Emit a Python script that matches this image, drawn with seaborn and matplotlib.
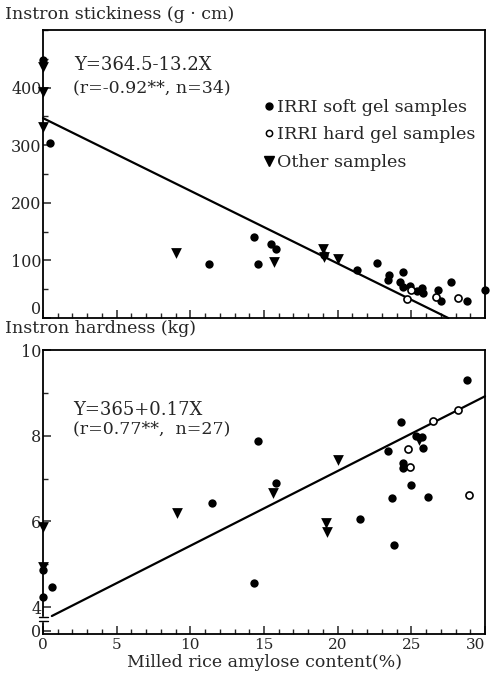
import numpy as np
import pandas as pd
import seaborn as sns
import matplotlib.pyplot as plt
from matplotlib.lines import Line2D
from matplotlib.ticker import MultipleLocator

sns.set_style("ticks")
plt.rcParams["font.family"] = ["DejaVu Serif"]

# stickiness panel (g cm) vs amylose (%)
soft_x_top = [0, 0.5, 11.3, 14.3, 14.6, 15.5, 15.8, 19.1, 21.3, 22.7, 23.5, 23.4,
              24.4, 24.2, 24.4, 24.9, 25.7, 25.8, 25.4, 26.8, 27.0, 27.7, 28.8, 30.0]
soft_y_top = [448, 304, 94, 141, 94, 128, 120, 110, 83, 95, 75, 66,
              80, 62, 54, 56, 52, 43, 46, 49, 30, 62, 30, 49]
hard_x_top = [24.7, 25.0, 26.7, 28.2]
hard_y_top = [33, 49, 37, 35]
other_x_top = [0, 0, 0, 9.0, 15.7, 19.0, 19.1, 20.0]
other_y_top = [436, 392, 332, 113, 97, 119, 106, 102]
line_x_top = [0, 27.5]
line_y_top = [347, 0]

# hardness panel (kg) vs amylose (%)
soft_x_bot = [0, 0.6, 0, 11.5, 14.6, 14.3, 15.8, 21.5, 23.4, 23.7, 23.8, 24.3,
              24.4, 24.4, 25.0, 25.3, 25.7, 25.8, 26.1, 28.8]
soft_y_bot = [4.86, 4.47, 4.23, 6.42, 7.87, 4.56, 6.89, 6.05, 7.64, 6.54, 5.45, 8.31,
              7.36, 7.24, 6.84, 7.99, 7.97, 7.71, 6.56, 9.31]
hard_x_bot = [24.8, 24.9, 26.5, 28.2, 28.9]
hard_y_bot = [7.68, 7.26, 8.34, 8.61, 6.61]
other_x_bot = [0, 0, 9.1, 15.6, 19.2, 19.3, 20.0, 25.5]
other_y_bot = [5.86, 4.93, 6.19, 6.66, 5.96, 5.75, 7.43, 7.89]
line_x_bot = [0.6, 30]
line_y_bot = [3.79, 8.92]

x_ticks = [0, 5, 10, 15, 20, 25, 30]
top_yticks = [0, 100, 200, 300, 400]
bot_yticks = [3.45, 4, 6, 8, 10]
bot_yticklabels = ["0", "4", "6", "8", "10"]

legend_labels = ["IRRI soft gel samples", "IRRI hard gel samples", "Other samples"]


def draw_groups(ax, sx, sy, hx, hy, ox, oy, lx, ly):
    sns.lineplot(x=lx, y=ly, ax=ax, color="black", linewidth=1.6, clip_on=False)
    sns.scatterplot(x=sx, y=sy, ax=ax, color="black", marker="o", s=36,
                    edgecolor="black", linewidth=0, clip_on=False, zorder=3)
    sns.scatterplot(x=hx, y=hy, ax=ax, color="white", marker="o", s=26,
                    edgecolor="black", linewidth=1.2, clip_on=False, zorder=3)
    sns.scatterplot(x=ox, y=oy, ax=ax, color="black", marker="v", s=60,
                    edgecolor="black", linewidth=0, clip_on=False, zorder=3)


def style_axes(ax):
    for sp in ax.spines.values():
        sp.set_visible(True)
        sp.set_linewidth(1.3)
        sp.set_color("black")
    ax.set_xlim(0, 30)
    ax.set_xticks(x_ticks)
    ax.xaxis.set_minor_locator(MultipleLocator(1))
    ax.tick_params(which="major", direction="in", length=6, width=1.1,
                   labelsize=11.5, pad=3)
    ax.tick_params(which="minor", direction="in", length=3.5, width=1.0)
    ax.tick_params(axis="y", which="both", pad=1)
    ax.tick_params(axis="x", labelsize=11)


fig = plt.figure(figsize=(4.93, 6.77), dpi=100)
ax1 = fig.add_axes([0.0872, 0.5303, 0.8966, 0.4254])
ax2 = fig.add_axes([0.0872, 0.0635, 0.8966, 0.4195])

draw_groups(ax1, soft_x_top, soft_y_top, hard_x_top, hard_y_top,
            other_x_top, other_y_top, line_x_top, line_y_top)
style_axes(ax1)
ax1.set_ylim(0, 500)
ax1.set_yticks(top_yticks)
ax1.yaxis.set_minor_locator(MultipleLocator(50))
ax1.set_xticklabels([])
ax1.get_yticklabels()[0].set_verticalalignment("bottom")
ax1.text(0.070, 0.878, "Y=364.5-13.2X", transform=ax1.transAxes,
         fontsize=13, va="center", ha="left")
ax1.text(0.068, 0.799, "(r=-0.92**, n=34)", transform=ax1.transAxes,
         fontsize=12.5, va="center", ha="left")

handles = [
    Line2D([], [], marker="o", linestyle="none", color="black", markersize=5),
    Line2D([], [], marker="o", linestyle="none", markerfacecolor="white",
           markeredgecolor="black", markeredgewidth=1.1, markersize=4.5),
    Line2D([], [], marker="v", linestyle="none", color="black", markersize=6.5),
]
ax1.legend(handles, legend_labels, loc="upper left", bbox_to_anchor=(0.485, 0.785),
           frameon=False, fontsize=12.6, handlelength=0.5, handletextpad=0.2,
           labelspacing=0.6, borderaxespad=0)

draw_groups(ax2, soft_x_bot, soft_y_bot, hard_x_bot, hard_y_bot,
            other_x_bot, other_y_bot, line_x_bot, line_y_bot)
style_axes(ax2)
ax2.set_ylim(3.37, 10)
ax2.set_yticks(bot_yticks)
ax2.set_yticklabels(bot_yticklabels)
ax2.yaxis.set_minor_locator(MultipleLocator(1))
ax2.get_xticklabels()[-1].set_horizontalalignment("right")
ax2.set_xlabel("Milled rice amylose content(%)", fontsize=12.5, labelpad=1)
ax2.text(0.068, 0.789, "Y=365+0.17X", transform=ax2.transAxes,
         fontsize=13, va="center", ha="left")
ax2.text(0.068, 0.722, "(r=0.77**,  n=27)", transform=ax2.transAxes,
         fontsize=12.5, va="center", ha="left")

# axis break mark on hardness axis
ax2.fill_between([-0.008, 0.012], 0.047, 0.059, transform=ax2.transAxes,
                 color="white", clip_on=False, zorder=4)
for yb in (0.047, 0.059):
    ax2.plot([-0.008, 0.012], [yb, yb], transform=ax2.transAxes, color="black",
             linewidth=1.0, clip_on=False, zorder=5)

fig.text(0.01, 0.979, "Instron stickiness (g · cm)", fontsize=12.5, va="center", ha="left")
fig.text(0.01, 0.515, "Instron hardness (kg)", fontsize=12.5, va="center", ha="left")

fig.savefig("out.png", dpi=100)
